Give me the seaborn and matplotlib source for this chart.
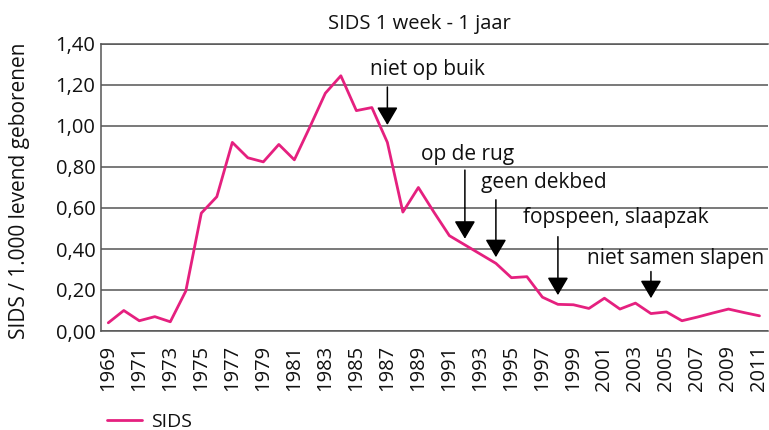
import numpy as np
import pandas as pd
import matplotlib
matplotlib.use("Agg")
import matplotlib.pyplot as plt
import seaborn as sns

# SIDS per 1.000 levend geborenen, 1969-2011
years = list(range(1969, 2012))
sids = [0.04, 0.10, 0.05, 0.07, 0.045, 0.195, 0.575, 0.655, 0.92, 0.845,
        0.825, 0.91, 0.835, 0.995, 1.16, 1.245, 1.075, 1.09, 0.92, 0.58,
        0.70, 0.58, 0.465, 0.42, 0.375, 0.33, 0.26, 0.265, 0.165, 0.13,
        0.128, 0.11, 0.16, 0.107, 0.136, 0.085, 0.093, 0.05, 0.068, 0.088,
        0.107, 0.09, 0.074]

# campagnes: label, jaar, punt van pijl, begin van pijl, tekstpositie
campaign_labels = ["niet op buik", "op de rug", "geen dekbed",
                   "fopspeen, slaapzak", "niet samen slapen"]
campaign_years = [1987, 1992, 1994, 1998, 2004]
arrow_tips = [1.005, 0.45, 0.36, 0.175, 0.16]
arrow_tops = [1.19, 0.785, 0.64, 0.46, 0.29]
text_x = [1989.6, 1992.2, 1997.1, 2001.75, 2005.6]
text_y = [1.278, 0.859, 0.722, 0.556, 0.356]

yticks = [0.0, 0.2, 0.4, 0.6, 0.8, 1.0, 1.2, 1.4]
xticks = list(range(1969, 2012, 2))

PINK = "#e5207f"
GRID = "#555555"
TEXT = "#111111"

sns.set_style("white")
plt.rcParams["font.family"] = ["Open Sans", "DejaVu Sans"]
plt.rcParams.update({"text.color": TEXT, "axes.labelcolor": TEXT,
                     "xtick.color": TEXT, "ytick.color": TEXT})

df = pd.DataFrame({"jaar": years, "SIDS": sids})

fig = plt.figure(figsize=(7.69, 4.30), dpi=100)
ax = fig.add_axes([101 / 769, 99 / 430, 667 / 769, 287 / 430])

sns.lineplot(data=df, x="jaar", y="SIDS", color=PINK, linewidth=2.0,
             ax=ax, label="SIDS")

ax.set_xlim(1968.53, 2011.55)
ax.set_ylim(0, 1.4)
ax.set_yticks(yticks)
ax.set_yticklabels([f"{v:.2f}".replace(".", ",") for v in yticks], fontsize=14.5)
ax.set_xticks(xticks)
ax.set_xticklabels([str(y) for y in xticks], rotation=90, fontsize=14.5)
ax.tick_params(axis="y", length=0, pad=4)
ax.tick_params(axis="x", length=0, pad=10)

ax.grid(axis="y", color=GRID, linewidth=1.1)
ax.grid(axis="x", visible=False)
for side in ["left", "bottom", "top"]:
    ax.spines[side].set_color(GRID)
    ax.spines[side].set_linewidth(1.1)
ax.spines["right"].set_visible(False)

ax.set_xlabel("")
ax.set_ylabel("SIDS / 1.000 levend geborenen", fontsize=15)
ax.yaxis.set_label_coords(-0.106, 0.49)
ax.set_title("SIDS 1 week - 1 jaar", fontsize=14.5, x=0.478, pad=11)

for lab, yr, tip, top, tx, ty in zip(campaign_labels, campaign_years, arrow_tips,
                                     arrow_tops, text_x, text_y):
    ax.annotate("", xy=(yr, tip), xytext=(yr, top),
                arrowprops=dict(arrowstyle="-|>,head_width=0.65,head_length=1.1",
                                color="black", lw=1.1, shrinkA=0, shrinkB=0))
    ax.text(tx, ty, lab, ha="center", va="center", fontsize=15)

ax.legend(loc="lower left", bbox_to_anchor=(0.124, -0.03),
          bbox_transform=fig.transFigure, frameon=False, fontsize=14,
          handlelength=1.8, handletextpad=0.45, borderaxespad=0.2)

fig.savefig("out.png", dpi=100)
